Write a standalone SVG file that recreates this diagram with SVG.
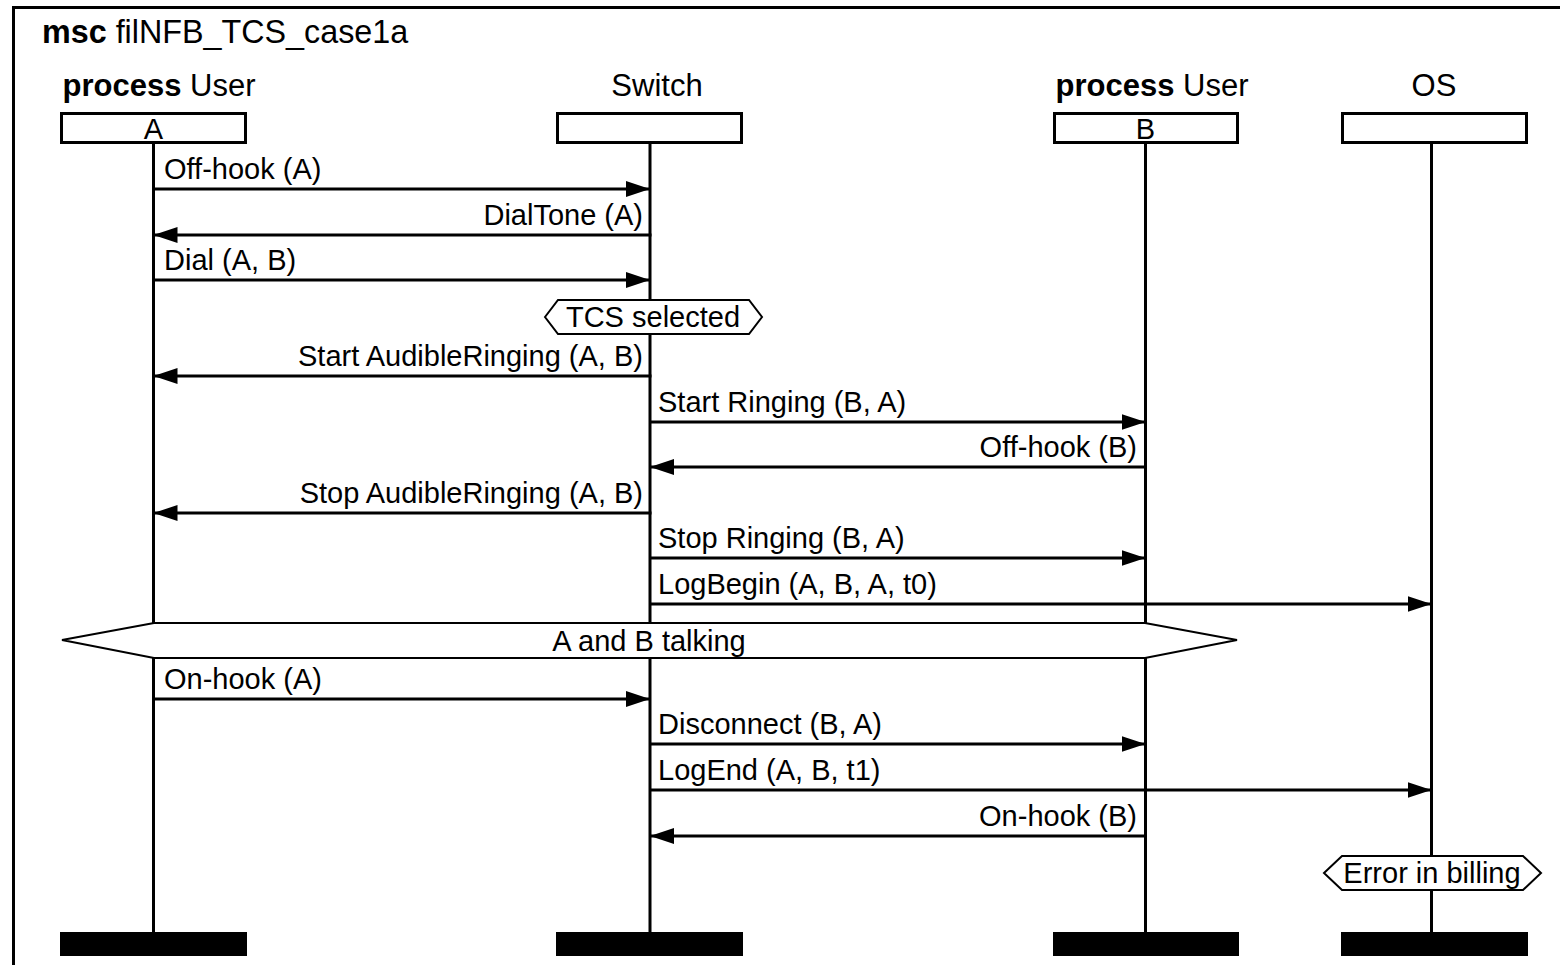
<svg xmlns="http://www.w3.org/2000/svg" width="1560" height="965" viewBox="0 0 1560 965">
  <style>
    text { font-family: "Liberation Sans", Arial, sans-serif; fill: #000; }
    .title { font-size: 32.3px; }
    .head { font-size: 31px; text-anchor: middle; }
    .inst { font-size: 29px; text-anchor: middle; }
    .lbl { font-size: 29px; }
    .lblr { font-size: 29px; text-anchor: end; }
    .cond-t { font-size: 29px; text-anchor: middle; }
    .box { fill: #fff; stroke: #000; stroke-width: 3; }
    .bar { fill: #000; }
    .life { stroke: #000; stroke-width: 3; fill: none; }
    .msg { stroke: #000; stroke-width: 3; fill: none; marker-end: url(#arrow); }
    .cond { fill: #fff; stroke: #000; stroke-width: 2; }
    .frame { fill: none; stroke: #000; stroke-width: 3; }
  </style>
  <defs>
    <marker id="arrow" markerUnits="userSpaceOnUse" markerWidth="25" markerHeight="17" refX="24" refY="8" orient="auto">
      <path d="M0,0 L24,8 L0,16 Z" fill="#000"/>
    </marker>
  </defs>

  <rect width="1560" height="965" fill="#fff"/>

  <!-- chart frame (open to the right and bottom) -->
  <path class="frame" d="M13.5,975 V7.5 H1570"/>
  <text class="title" x="42" y="43"><tspan font-weight="bold">msc</tspan> filNFB_TCS_case1a</text>

  <!-- lifelines -->
  <g id="lifelines">
    <line class="life" x1="153.5" y1="143" x2="153.5" y2="932"/>
    <line class="life" x1="650" y1="143" x2="650" y2="932"/>
    <line class="life" x1="1145.5" y1="143" x2="1145.5" y2="932"/>
    <line class="life" x1="1431.5" y1="143" x2="1431.5" y2="932"/>
  </g>

  <!-- instances -->
  <g id="userA">
    <text class="head" x="159" y="96"><tspan font-weight="bold">process</tspan> User</text>
    <rect class="box" x="61.5" y="113.5" width="184" height="29"/>
    <text class="inst" x="153.5" y="139">A</text>
    <rect class="bar" x="60" y="932" width="187" height="24"/>
  </g>
  <g id="switch">
    <text class="head" x="657" y="96">Switch</text>
    <rect class="box" x="557.5" y="113.5" width="184" height="29"/>
    <rect class="bar" x="556" y="932" width="187" height="24"/>
  </g>
  <g id="userB">
    <text class="head" x="1152" y="96"><tspan font-weight="bold">process</tspan> User</text>
    <rect class="box" x="1054.5" y="113.5" width="183" height="29"/>
    <text class="inst" x="1145.5" y="139">B</text>
    <rect class="bar" x="1053" y="932" width="186" height="24"/>
  </g>
  <g id="os">
    <text class="head" x="1434" y="96">OS</text>
    <rect class="box" x="1342.5" y="113.5" width="184" height="29"/>
    <rect class="bar" x="1341" y="932" width="187" height="24"/>
  </g>

  <!-- conditions -->
  <g id="cond-tcs">
    <polygon class="cond" points="545,317 558,300 749,300 762,317 749,334 558,334"/>
    <text class="cond-t" x="653" y="327">TCS selected</text>
  </g>
  <g id="cond-talking">
    <polygon class="cond" points="62,640 154,623 1145,623 1237,640 1145,658 154,658"/>
    <text class="cond-t" x="649" y="651">A and B talking</text>
  </g>
  <g id="cond-billing">
    <polygon class="cond" points="1324,873 1342,856 1523,856 1541,873 1523,890 1342,890"/>
    <text class="cond-t" x="1432" y="883">Error in billing</text>
  </g>

  <!-- messages -->
  <g id="messages">
    <line class="msg" x1="153.5" y1="189" x2="650" y2="189"/>
    <text class="lbl" x="164" y="179">Off-hook (A)</text>

    <line class="msg" x1="651.5" y1="235" x2="153.5" y2="235"/>
    <text class="lblr" x="643" y="225">DialTone (A)</text>

    <line class="msg" x1="153.5" y1="280" x2="650" y2="280"/>
    <text class="lbl" x="164" y="270">Dial (A, B)</text>

    <line class="msg" x1="651.5" y1="376" x2="153.5" y2="376"/>
    <text class="lblr" x="643" y="366">Start AudibleRinging (A, B)</text>

    <line class="msg" x1="650" y1="422" x2="1145.5" y2="422"/>
    <text class="lbl" x="658" y="412">Start Ringing (B, A)</text>

    <line class="msg" x1="1145.5" y1="467" x2="650" y2="467"/>
    <text class="lblr" x="1137" y="457">Off-hook (B)</text>

    <line class="msg" x1="651.5" y1="513" x2="153.5" y2="513"/>
    <text class="lblr" x="643" y="503">Stop AudibleRinging (A, B)</text>

    <line class="msg" x1="650" y1="558" x2="1145.5" y2="558"/>
    <text class="lbl" x="658" y="548">Stop Ringing (B, A)</text>

    <line class="msg" x1="650" y1="604" x2="1431.5" y2="604"/>
    <text class="lbl" x="658" y="594">LogBegin (A, B, A, t0)</text>

    <line class="msg" x1="153.5" y1="699" x2="650" y2="699"/>
    <text class="lbl" x="164" y="689">On-hook (A)</text>

    <line class="msg" x1="650" y1="744" x2="1145.5" y2="744"/>
    <text class="lbl" x="658" y="734">Disconnect (B, A)</text>

    <line class="msg" x1="650" y1="790" x2="1431.5" y2="790"/>
    <text class="lbl" x="658" y="780">LogEnd (A, B, t1)</text>

    <line class="msg" x1="1145.5" y1="836" x2="650" y2="836"/>
    <text class="lblr" x="1137" y="826">On-hook (B)</text>
  </g>
</svg>
